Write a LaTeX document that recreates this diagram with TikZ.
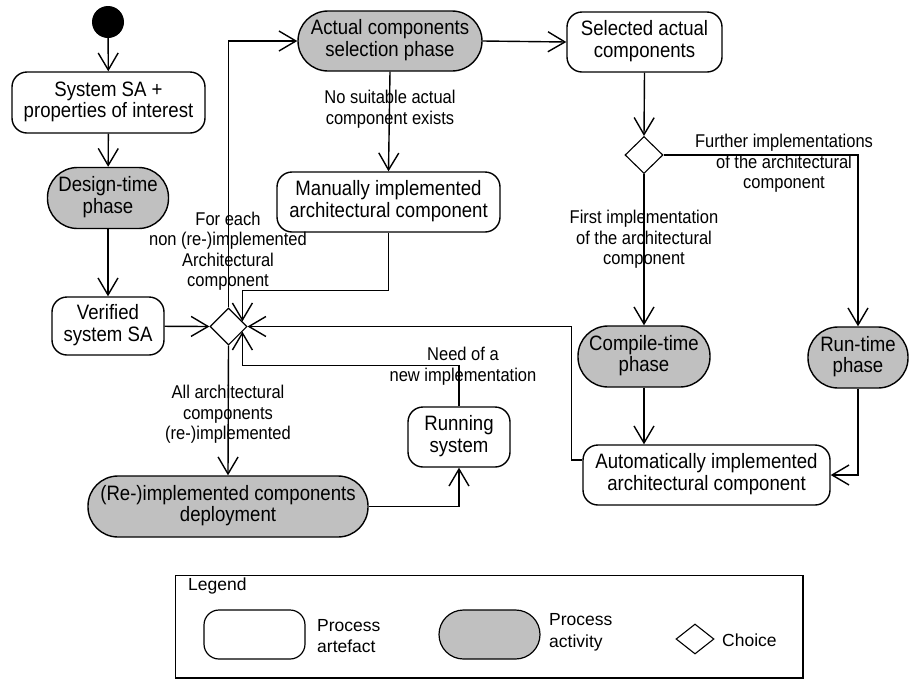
\documentclass[tikz,border=0pt]{standalone}
\usepackage{fontspec}
\usepackage{graphicx}
\setmainfont{Liberation Sans}
\usetikzlibrary{arrows.meta,shapes.geometric,calc}
\definecolor{actgray}{RGB}{192,192,192}
\newcommand\mtx[1]{\scalebox{1}[1.12]{\begin{tabular}{@{}c@{}}#1\end{tabular}}}
\begin{document}
\begin{tikzpicture}[x=1pt,y=-1pt,
 artefact/.style={draw,line width=1.4pt,rounded corners=15pt,fill=white,inner sep=0pt,font=\fontsize{18.6}{19.2}\selectfont},
 activity/.style={draw,line width=1.4pt,rounded corners=30pt,fill=actgray,inner sep=0pt,font=\fontsize{18.6}{19.2}\selectfont},
 choice/.style={draw,diamond,line width=1.1pt,fill=white,inner sep=0pt,minimum width=37pt,minimum height=37pt},
 lbl/.style={font=\fontsize{16.5}{18.3}\selectfont,inner sep=0pt},
 legtext/.style={align=left,font=\fontsize{17.5}{21.7}\selectfont,inner sep=0pt,anchor=west},
 arr/.style={line width=1.4pt,-{Straight Barb[length=17pt,width=20pt]}},
]
\useasboundingbox (0,0) rectangle (910,681);

% nodes
\node[circle,fill=black,minimum size=32pt,inner sep=0pt] (start) at (108,22) {};
\node[artefact,minimum width=193pt,minimum height=61pt] (sys) at (108.5,102.5) {\mtx{System SA +\\properties of interest}};
\node[activity,minimum width=121pt,minimum height=61pt] (design) at (108,198) {\mtx{Design-time\\phase}};
\node[artefact,minimum width=112pt,minimum height=58pt] (verified) at (108,326) {\mtx{Verified\\system SA}};
\node[choice] (ch1) at (228.5,326.5) {};
\node[activity,minimum width=184pt,minimum height=60pt] (sel) at (390,41) {\mtx{Actual components\\selection phase}};
\node[artefact,minimum width=155pt,minimum height=60pt] (selc) at (644.5,42) {\mtx{Selected actual\\components}};
\node[artefact,minimum width=223pt,minimum height=60pt] (manual) at (388.5,202) {\mtx{Manually implemented\\architectural component}};
\node[choice,minimum width=38pt] (ch2) at (644,155) {};
\node[activity,minimum width=132pt,minimum height=61pt] (compile) at (644,356.5) {\mtx{Compile-time\\phase}};
\node[activity,minimum width=100pt,minimum height=61pt] (runtime) at (858,357.5) {\mtx{Run-time\\phase}};
\node[artefact,minimum width=247pt,minimum height=60pt] (auto) at (706.5,475) {\mtx{Automatically implemented\\architectural component}};
\node[artefact,minimum width=102pt,minimum height=60pt] (running) at (459,437) {\mtx{Running\\system}};
\node[activity,minimum width=280pt,minimum height=61pt] (deploy) at (228,506.5) {\mtx{(Re-)implemented components\\deployment}};

% helper coordinates on diamond edges
\coordinate (ch1ne) at ($(ch1.east)!0.27!(ch1.north)$);
\coordinate (ch1se) at ($(ch1.east)!0.27!(ch1.south)$);

% connectors
\draw[arr] (start) -- (sys);
\draw[arr] (sys) -- (design);
\draw[arr] (design) -- (verified);
\draw[arr] (verified) -- (ch1.west);
\draw[arr] (ch1.north) |- (sel.west);
\draw[arr] (sel.east) -- (selc.west);
\draw[arr] (sel.south) -- (manual.north);
\draw[arr] (manual.south) -- ++(0,58) -| (ch1ne);
\draw[arr] ($(auto.west)+(0,-15)$) -- ++(-11,0) |- (ch1.east);
\draw[arr] (running.north) -- ++(0,-41) -| (ch1se);
\draw[arr] (ch1.south) -- (deploy.north);
\draw[arr] (deploy.east) -| (running.south);
\draw[arr] (selc.south) -- (ch2.north);
\draw[arr] (ch2.south) -- (compile.north);
\draw[arr] (ch2.east) -| (runtime.north);
\draw[arr] (compile.south) -- (compile.south |- auto.north);
\draw[arr] (runtime.south) |- (auto.east);

% labels
\node[lbl] (l1) at (228,252) {\mtx{For each\\non (re-)implemented\\Architectural\\component}};
\node[lbl] (l2) at (390,110) {\mtx{No suitable actual\\component exists}};
\node[lbl] (l3) at (228,415) {\mtx{All architectural\\components\\(re-)implemented}};
\node[lbl] (l4) at (463,367) {\mtx{Need of a\\new implementation}};
\node[lbl] (l5) at (644,240) {\mtx{First implementation\\of the architectural\\component}};
\node[lbl] (l6) at (784,164) {\mtx{Further implementations\\of the architectural\\component}};

% legend
\draw[line width=1.4pt] (175.5,575.5) rectangle (803,678);
\node[legtext] (legt) at (188,586) {Legend};
\node[artefact,line width=1.2pt,rounded corners=15pt,minimum width=101pt,minimum height=49pt] (lart) at (254.5,634.5) {};
\node[legtext] (lartt) at (317,636) {Process\\artefact};
\node[activity,line width=1.2pt,rounded corners=24.5pt,minimum width=101pt,minimum height=49pt] (lact) at (489.5,634.5) {};
\node[legtext] (lactt) at (549,632) {Process\\activity};
\node[choice,minimum width=38pt,minimum height=30pt] (lch) at (695,639) {};
\node[legtext] (lcht) at (722,640) {Choice};
\end{tikzpicture}
\end{document}
